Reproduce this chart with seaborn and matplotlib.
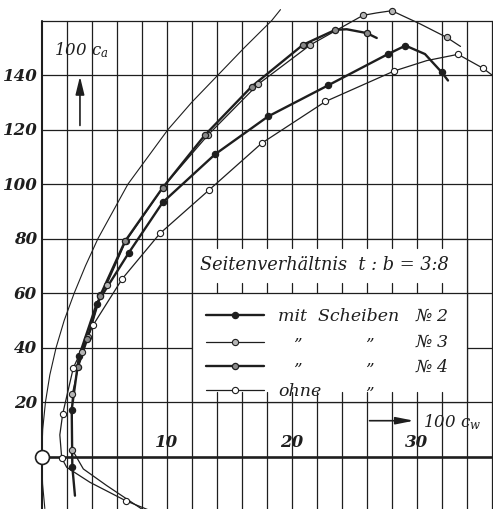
import numpy as np
import pandas as pd
import matplotlib
matplotlib.use("Agg")
import matplotlib.pyplot as plt
import seaborn as sns

sns.set_theme(style="white")
plt.rcParams["font.family"] = ["DejaVu Serif"]
plt.rcParams["mathtext.fontset"] = "dejavuserif"

INK = "#1e1e1e"

no2_cw = [2.66, 2.45, 2.40, 2.98, 4.40, 6.98, 9.68, 13.86, 18.1, 22.9, 27.7, 29.1, 30.66, 32.0, 32.5]
no2_ca = [-14.3, -3.7, 17.3, 36.8, 56.1, 74.9, 93.3, 110.9, 124.8, 136.2, 147.7, 150.8, 147.7, 141.0, 138.0]
no2_pt = [0, 1, 1, 1, 1, 1, 1, 1, 1, 1, 1, 1, 0, 1, 0]

no3_cw = [8.2, 5.2, 3.33, 2.45, 2.45, 3.2, 3.73, 4.66, 5.2, 6.72, 9.73, 13.3, 17.3, 21.5, 25.7, 26.8, 28.0, 30.3, 32.4, 33.5]
no3_ca = [-19.8, -10.6, -4.5, 2.5, 23.0, 38.4, 43.9, 59.2, 63.1, 79.0, 99.0, 118.0, 136.6, 151.1, 161.9, 162.8, 163.6, 158.7, 153.8, 150.5]
no3_pt = [0, 0, 0, 1, 1, 1, 1, 1, 1, 1, 1, 1, 1, 1, 1, 0, 1, 0, 1, 0]

no4_cw = [2.9, 3.65, 4.66, 6.66, 9.68, 13.06, 16.8, 20.9, 23.5, 24.4, 26.0, 26.8]
no4_ca = [33.0, 43.3, 58.9, 79.0, 98.7, 118.0, 135.8, 151.1, 156.6, 156.8, 155.4, 153.6]
no4_pt = [1, 1, 1, 1, 1, 1, 1, 1, 1, 0, 1, 0]

ohne_cw = [8.8, 6.74, 3.86, 2.0, 1.6, 1.45, 1.68, 2.53, 4.13, 6.45, 9.46, 13.38, 17.6, 22.7, 28.2, 30.8, 33.3, 35.3, 36.6]
ohne_ca = [-20.0, -16.2, -9.4, -3.9, -0.5, 8.0, 15.7, 32.6, 48.4, 65.3, 81.9, 97.8, 115.0, 130.3, 141.5, 145.3, 147.6, 142.5, 138.0]
ohne_pt = [0, 1, 0, 0, 1, 0, 1, 1, 1, 1, 1, 1, 1, 1, 1, 0, 1, 1, 0]

# thin reference curve
ref_ca = [-19, -10, 0, 10, 20, 30, 40, 50, 60, 70, 80, 90, 100, 110, 120, 130, 140, 150, 160, 164]
ref_cw = [0.25, 0.07, 0.0, 0.08, 0.3, 0.65, 1.15, 1.8, 2.6, 3.5, 4.5, 5.7, 6.9, 8.5, 10.1, 12.0, 14.1, 16.2, 18.4, 19.1]

y_ticks = [20, 40, 60, 80, 100, 120, 140]
x_ticks = [10, 20, 30]

legend_labels = ["mit  Scheiben", "\u201d", "\u201d", "ohne"]
legend_nums = ["\u2116 2", "\u2116 3", "\u2116 4", ""]
legend_title = "Seitenverh\u00e4ltnis  t : b = 3:8"

series = [
    ("No2", no2_cw, no2_ca, no2_pt, dict(lw=1.7, face=INK, mew=0.9, ms=20)),
    ("No3", no3_cw, no3_ca, no3_pt, dict(lw=0.9, face="#b5b5b5", mew=0.8, ms=20)),
    ("No4", no4_cw, no4_ca, no4_pt, dict(lw=1.7, face="#8a8a8a", mew=0.9, ms=20)),
    ("ohne", ohne_cw, ohne_ca, ohne_pt, dict(lw=0.9, face="white", mew=0.8, ms=20)),
]

fig = plt.figure(figsize=(4.93, 5.10), dpi=100)
ax = fig.add_axes([0, 0, 1, 1])
ax.set_xlim(-3.336, 36.10)
ax.set_ylim(-19.19, 167.9)
ax.axis("off")
fig.patch.set_facecolor("white")

# grid
for x in range(0, 37, 2):
    ax.plot([x, x], [-25, 160], color=INK, lw=0.9 if x else 1.5, zorder=1)
for y in range(20, 161, 20):
    ax.plot([0, 40], [y, y], color=INK, lw=0.9, zorder=1)
ax.plot([0, 40], [0, 0], color=INK, lw=1.9, zorder=1)

# legend box (white, covers grid)
bx0, bx1, by0, by1 = 12, 34, 20, 80
ax.add_patch(plt.Rectangle((bx0, by0), bx1 - bx0, by1 - by0, facecolor="white",
                           edgecolor=INK, lw=0.9, zorder=2))
ax.plot([bx0, bx1], [60, 60], color=INK, lw=0.9, zorder=3)
for x in range(bx0 + 2, bx1, 2):
    ax.plot([x, x], [by1, by1 - 3.6], color=INK, lw=0.9, zorder=3)
    ax.plot([x, x], [60, 63.6], color=INK, lw=0.9, zorder=3)
    ax.plot([x, x], [by0, by0 + 3.6], color=INK, lw=0.9, zorder=3)

# reference curve
sns.lineplot(x=ref_cw, y=ref_ca, sort=False, estimator=None, color=INK, lw=0.8, ax=ax, zorder=4)

# data curves
for name, cw, ca, pt, st in series:
    df = pd.DataFrame({"cw": cw, "ca": ca, "pt": pt})
    sns.lineplot(data=df, x="cw", y="ca", sort=False, estimator=None, color=INK,
                 lw=st["lw"], ax=ax, zorder=5)
    m = df[df.pt == 1]
    sns.scatterplot(data=m, x="cw", y="ca", marker="o", s=st["ms"], color=st["face"],
                    edgecolor=INK, linewidth=st["mew"], ax=ax, zorder=6, legend=False)

# origin circle
ax.plot([0], [0], "o", ms=10, mfc="white", mec=INK, mew=1.2, clip_on=False, zorder=7)

# tick labels
for y in y_ticks:
    ax.text(-0.35, y, str(y), ha="right", va="center", fontsize=12, style="italic",
            weight="bold", color=INK, zorder=8)
for x in x_ticks:
    ax.text(x, 5.4, str(x), ha="center", va="center", fontsize=12, style="italic",
            weight="bold", color=INK, zorder=8)

# axis captions with arrows
ax.text(1.0, 149.6, "100 $c_a$", ha="left", va="center", fontsize=12, style="italic", color=INK)
ax.annotate("", xy=(3.06, 140.5), xytext=(3.06, 120.5),
            arrowprops=dict(arrowstyle="-|>,head_length=0.9,head_width=0.22", color=INK, lw=1.2))
ax.annotate("", xy=(30.0, 13.2), xytext=(26.0, 13.2),
            arrowprops=dict(arrowstyle="-|>,head_length=0.9,head_width=0.18", color=INK, lw=1.2))
ax.text(30.5, 13.2, "100 $c_w$", ha="left", va="center", fontsize=12, style="italic", color=INK)

# legend content
ax.text(12.7, 70.6, legend_title, ha="left", va="center", fontsize=12.8, style="italic", color=INK, zorder=8)
rows = [51.8, 42.2, 33.2, 24.3]
for (name, cw, ca, pt, st), yrow, lab, num in zip(series, rows, legend_labels, legend_nums):
    ax.plot([13.15, 17.8], [yrow, yrow], color=INK, lw=st["lw"], zorder=8)
    ax.scatter([15.5], [yrow], s=st["ms"], color=st["face"], edgecolors=INK,
               linewidths=st["mew"], zorder=9)
    if lab == "\u201d":
        ax.text(20.1, yrow - 1, lab, ha="left", va="center", fontsize=12, style="italic", color=INK, zorder=8)
        ax.text(25.9, yrow - 1, lab, ha="left", va="center", fontsize=12, style="italic", color=INK, zorder=8)
    else:
        ax.text(18.9, yrow, lab, ha="left", va="center", fontsize=12.5, style="italic", color=INK, zorder=8)
        if lab == "ohne":
            ax.text(25.9, yrow - 1, "\u201d", ha="left", va="center", fontsize=12, style="italic", color=INK, zorder=8)
    if num:
        ax.text(29.9, yrow, num, ha="left", va="center", fontsize=12.5, style="italic", color=INK, zorder=8)

fig.savefig("out.png", dpi=100, facecolor="white")
